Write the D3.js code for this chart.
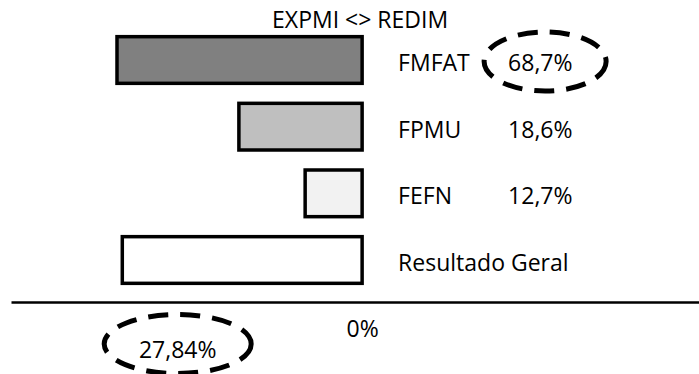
<!DOCTYPE html>
<html>
<head>
<meta charset="utf-8">
<script src="https://cdn.jsdelivr.net/npm/d3@7/dist/d3.min.js"></script>
<style>
  html, body { margin: 0; padding: 0; background: #fff; }
  svg text { font-family: "Open Sans", sans-serif; fill: #000; }
</style>
</head>
<body>
<svg id="chart" width="699" height="374"></svg>
<script>
// Categories (top to bottom) and their bar magnitudes (EXPMI side, drawn leftward)
const categories = ["FMFAT", "FPMU", "FEFN", "Resultado Geral"];
const barValues = [37.0, 18.6, 8.6, 36.2];
const barFills = ["#808080", "#bfbfbf", "#f2f2f2", "#ffffff"];
// Share labels shown beside each faculty
const shareLabels = ["68,7%", "18,6%", "12,7%", ""];
// Axis ticks and the highlighted overall value
const axisTicks = [0];
const overallValue = 27.84;
const title = "EXPMI <> REDIM";

const fmtPct = v => d3.format(".2~f")(v).replace(".", ",") + "%";

const svg = d3.select("#chart");

// Horizontal scale: EXPMI grows to the left of zero, REDIM to the right
const x = d3.scaleLinear().domain([53, -50.85]).range([11, 699]);
const y = d3.scaleBand().domain(categories)
  .range([26.67, 293.33]).paddingInner(0.3).paddingOuter(0.15);

const axisY = 302;
const sw = 3.5;

// Title
svg.append("text")
  .attr("x", x(0) - 2).attr("y", 28)
  .attr("text-anchor", "middle")
  .style("font-size", "23px")
  .text(title);

// Bars
svg.append("g").selectAll("rect")
  .data(categories)
  .join("rect")
  .attr("x", (d, i) => x(barValues[i]))
  .attr("y", d => y(d))
  .attr("width", (d, i) => x(0) - x(barValues[i]))
  .attr("height", y.bandwidth())
  .attr("fill", (d, i) => barFills[i])
  .attr("stroke", "#000")
  .attr("stroke-width", sw);

// Category names
const labelX = x(0) + 36;
const shareX = x(0) + 146;
svg.append("g").selectAll("text")
  .data(categories)
  .join("text")
  .attr("x", labelX)
  .attr("y", d => y(d) + y.bandwidth() / 2 + 11)
  .style("font-size", "23px")
  .text(d => d);

// Share values
svg.append("g").selectAll("text")
  .data(categories)
  .join("text")
  .attr("x", shareX)
  .attr("y", d => y(d) + y.bandwidth() / 2 + 11)
  .style("font-size", "23px")
  .text((d, i) => shareLabels[i]);

// Bottom axis
const axis = d3.axisBottom(x)
  .tickValues(axisTicks)
  .tickSize(0)
  .tickPadding(19)
  .tickFormat(fmtPct);
const gAxis = svg.append("g")
  .attr("transform", `translate(0,${axisY})`)
  .call(axis);
gAxis.select(".domain").attr("stroke", "#000").attr("stroke-width", 2.5);
gAxis.selectAll(".tick text")
  .attr("font-family", null)
  .attr("font-size", null)
  .style("font-size", "23px")
  .attr("fill", "#000");

// Overall result callout below the axis
svg.append("text")
  .attr("x", x(overallValue))
  .attr("y", axisY + 56)
  .attr("text-anchor", "middle")
  .style("font-size", "23px")
  .text(fmtPct(overallValue));

// Dashed highlight ellipses
function dashedEllipse(cx, cy, rx, ry) {
  svg.append("ellipse")
    .attr("cx", cx).attr("cy", cy)
    .attr("rx", rx).attr("ry", ry)
    .attr("fill", "none").attr("stroke", "#000")
    .attr("stroke-width", 5)
    .attr("stroke-dasharray", "20 12");
}
dashedEllipse(shareX + 37, y(categories[0]) + y.bandwidth() / 2 + 1.5, 61, 29.5);
dashedEllipse(x(overallValue), axisY + 42, 73.5, 29.5);
</script>
</body>
</html>
